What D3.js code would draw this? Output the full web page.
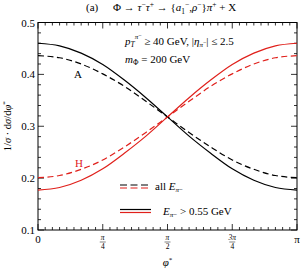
<!DOCTYPE html>
<html>
<head>
<meta charset="utf-8">
<script src="https://d3js.org/d3.v7.min.js"></script>
<style>
  body { margin: 0; background: #fff; }
  text { font-family: "Liberation Serif", "DejaVu Serif", serif; fill: #000; }
</style>
</head>
<body>
<script>
// phi* sample points (in units of pi), every 15 degrees
var phiPts = [0, 1/12, 2/12, 3/12, 4/12, 5/12, 6/12, 7/12, 8/12, 9/12, 10/12, 11/12, 1];
// A (black) and H (red), solid = E > 0.55 GeV, dashed = all E
var aSolid  = [0.460, 0.455, 0.441, 0.419, 0.389, 0.355, 0.318, 0.281, 0.248, 0.218, 0.196, 0.182, 0.177];
var aDashed = [0.436, 0.432, 0.420, 0.401, 0.377, 0.348, 0.318, 0.288, 0.260, 0.235, 0.217, 0.205, 0.201];
var hSolid  = [0.177, 0.182, 0.196, 0.218, 0.248, 0.281, 0.318, 0.355, 0.389, 0.419, 0.441, 0.455, 0.460];
var hDashed = [0.201, 0.205, 0.217, 0.235, 0.260, 0.288, 0.318, 0.348, 0.377, 0.401, 0.420, 0.432, 0.436];
var yTicks = [0.1, 0.2, 0.3, 0.4, 0.5];
var xTickLabels = [["0"], ["π", "4"], ["π", "2"], ["3π", "4"], ["π"]];

var W = 307, H = 272;
var margin = { top: 22.5, right: 10, bottom: 42, left: 38 };
var red = "#e0201b";

var svg = d3.select("body").append("svg").attr("width", W).attr("height", H);

var x = d3.scaleLinear().domain([0, 1]).range([margin.left, W - margin.right]);
var y = d3.scaleLinear().domain([0.1, 0.5]).range([H - margin.bottom, margin.top]);

// frame
svg.append("rect")
  .attr("x", x(0)).attr("y", y(0.5))
  .attr("width", x(1) - x(0)).attr("height", y(0.1) - y(0.5))
  .attr("fill", "none").attr("stroke", "#000").attr("stroke-width", 1);

// ticks, inward on all sides
var g = svg.append("g").attr("stroke", "#000").attr("stroke-width", 0.8);
d3.range(0, 21).forEach(function (i) {
  var v = 0.1 + i * 0.02;
  var len = (i % 5 == 0) ? 6 : 3;
  g.append("line").attr("x1", x(0)).attr("x2", x(0) + len).attr("y1", y(v)).attr("y2", y(v));
  g.append("line").attr("x1", x(1)).attr("x2", x(1) - len).attr("y1", y(v)).attr("y2", y(v));
});
d3.range(0, 37).forEach(function (i) {
  var v = i / 36;
  var len = (i % 9 == 0) ? 6 : 3;
  g.append("line").attr("x1", x(v)).attr("x2", x(v)).attr("y1", y(0.1)).attr("y2", y(0.1) - len);
  g.append("line").attr("x1", x(v)).attr("x2", x(v)).attr("y1", y(0.5)).attr("y2", y(0.5) + len);
});

// y tick labels
svg.append("g").selectAll("text").data(yTicks).enter().append("text")
  .attr("x", x(0) - 3).attr("y", function (d) { return y(d) + 4; })
  .attr("text-anchor", "end").attr("font-size", 11)
  .text(function (d) { return d.toFixed(1); });

// x tick labels
xTickLabels.forEach(function (lab, i) {
  var xx = x(i / 4);
  if (lab.length == 1) {
    svg.append("text").attr("x", xx).attr("y", y(0.1) + 13)
      .attr("text-anchor", "middle").attr("font-size", 11).text(lab[0]);
  } else {
    svg.append("text").attr("x", xx).attr("y", y(0.1) + 10)
      .attr("text-anchor", "middle").attr("font-size", 7.5).attr("font-style", "italic")
      .style("fill", "#000").text(lab[0]);
    svg.append("line").attr("x1", xx - 3).attr("x2", xx + 3)
      .attr("y1", y(0.1) + 12).attr("y2", y(0.1) + 12).attr("stroke", "#000").attr("stroke-width", 0.5);
    svg.append("text").attr("x", xx).attr("y", y(0.1) + 19)
      .attr("text-anchor", "middle").attr("font-size", 7.5)
      .style("fill", "#000").text(lab[1]);
  }
});

// axis titles
var xl = svg.append("text").attr("x", x(0.5)).attr("y", H - 6)
  .attr("text-anchor", "middle").attr("font-size", 11);
xl.append("tspan").attr("font-style", "italic").text("φ");
xl.append("tspan").attr("font-size", 7).attr("dy", -4).text("*");

var yl = svg.append("text").attr("transform", "translate(11," + ((y(0.1) + y(0.5)) / 2) + ") rotate(-90)")
  .attr("text-anchor", "middle").attr("font-size", 10.5);
yl.append("tspan").text("1/");
yl.append("tspan").attr("font-style", "italic").text("σ");
yl.append("tspan").text(" · d");
yl.append("tspan").attr("font-style", "italic").text("σ");
yl.append("tspan").text("/d");
yl.append("tspan").attr("font-style", "italic").text("φ");
yl.append("tspan").attr("font-size", 7).attr("dy", -4).text("*");

// curves
var line = d3.line()
  .x(function (d, i) { return x(phiPts[i]); })
  .y(function (d) { return y(d); })
  .curve(d3.curveMonotoneX);

var series = [
  { v: aDashed, c: "#000", dash: "6,3.5" },
  { v: hDashed, c: red, dash: "6,3.5" },
  { v: aSolid, c: "#000", dash: null },
  { v: hSolid, c: red, dash: null }
];
series.forEach(function (s) {
  svg.append("path").attr("d", line(s.v))
    .attr("fill", "none").attr("stroke", s.c).attr("stroke-width", 1.2)
    .attr("stroke-dasharray", s.dash);
});

// labels A, H
svg.append("text").attr("x", 78).attr("y", 78).attr("text-anchor", "middle")
  .attr("font-size", 11).text("A");
svg.append("text").attr("x", 79).attr("y", 167).attr("text-anchor", "middle")
  .attr("font-size", 11).style("fill", red).text("H");

// title
var t = svg.append("text").attr("x", 86).attr("y", 11).attr("font-size", 11);
t.append("tspan").text("(a)");
t.append("tspan").attr("x", 113).text("Φ → ");
t.append("tspan").attr("font-style", "italic").text("τ");
t.append("tspan").attr("font-size", 7.5).attr("dy", -4).text("−");
t.append("tspan").attr("font-style", "italic").attr("dy", 4).text("τ");
t.append("tspan").attr("font-size", 7.5).attr("dy", -4).text("+");
t.append("tspan").attr("dy", 4).text(" → {");
t.append("tspan").attr("font-style", "italic").text("a");
t.append("tspan").attr("font-size", 7.5).attr("dy", 2.5).text("1");
t.append("tspan").attr("font-size", 7.5).attr("dy", -7).text("−");
t.append("tspan").attr("dy", 4.5).text(",");
t.append("tspan").attr("font-style", "italic").text("ρ");
t.append("tspan").attr("font-size", 7.5).attr("dy", -4).text("−");
t.append("tspan").attr("dy", 4).text("}");
t.append("tspan").attr("font-style", "italic").text("π");
t.append("tspan").attr("font-size", 7.5).attr("dy", -4).text("+");
t.append("tspan").attr("dy", 4).text(" + X");

// cuts
var c1 = svg.append("text").attr("x", 125).attr("y", 45).attr("font-size", 11);
c1.append("tspan").attr("font-style", "italic").text("p");
c1.append("tspan").attr("font-style", "italic").attr("font-size", 7.5).attr("dy", 2).text("T");
c1.append("tspan").attr("font-style", "italic").attr("font-size", 7).attr("dy", -8).text("π");
c1.append("tspan").attr("font-size", 6).attr("dy", -2).text("−");
c1.append("tspan").attr("dy", 8).text(" ≥ 40 GeV, |");
c1.append("tspan").attr("font-style", "italic").text("η");
c1.append("tspan").attr("font-style", "italic").attr("font-size", 7).attr("dy", 2).text("π");
c1.append("tspan").attr("font-size", 6).attr("dy", -3).text("−");
c1.append("tspan").attr("dy", 1).text("| ≤ 2.5");

var c2 = svg.append("text").attr("x", 125).attr("y", 63).attr("font-size", 11);
c2.append("tspan").attr("font-style", "italic").text("m");
c2.append("tspan").attr("font-size", 7.5).attr("dy", 2).text("Φ");
c2.append("tspan").attr("dy", -2).text(" = 200 GeV");

// legend
var lg = svg.append("g");
lg.append("line").attr("x1", 120).attr("x2", 151).attr("y1", 185).attr("y2", 185)
  .attr("stroke", "#000").attr("stroke-width", 1.2).attr("stroke-dasharray", "7,3.5");
lg.append("line").attr("x1", 120).attr("x2", 151).attr("y1", 188).attr("y2", 188)
  .attr("stroke", red).attr("stroke-width", 1.2).attr("stroke-dasharray", "7,3.5");
lg.append("line").attr("x1", 120).attr("x2", 151).attr("y1", 209.5).attr("y2", 209.5)
  .attr("stroke", "#000").attr("stroke-width", 1.2);
lg.append("line").attr("x1", 120).attr("x2", 151).attr("y1", 212.5).attr("y2", 212.5)
  .attr("stroke", red).attr("stroke-width", 1.2);

var l1 = lg.append("text").attr("x", 155).attr("y", 190).attr("font-size", 11);
l1.append("tspan").text("all  ");
l1.append("tspan").attr("font-style", "italic").text("E");
l1.append("tspan").attr("font-style", "italic").attr("font-size", 7).attr("dy", 2).text("π");
l1.append("tspan").attr("font-size", 7).text("−");

var l2 = lg.append("text").attr("x", 163).attr("y", 215).attr("font-size", 11);
l2.append("tspan").attr("font-style", "italic").text("E");
l2.append("tspan").attr("font-style", "italic").attr("font-size", 7).attr("dy", 2).text("π");
l2.append("tspan").attr("font-size", 7).text("−");
l2.append("tspan").attr("dy", -2).text(" > 0.55 GeV");
</script>
</body>
</html>
